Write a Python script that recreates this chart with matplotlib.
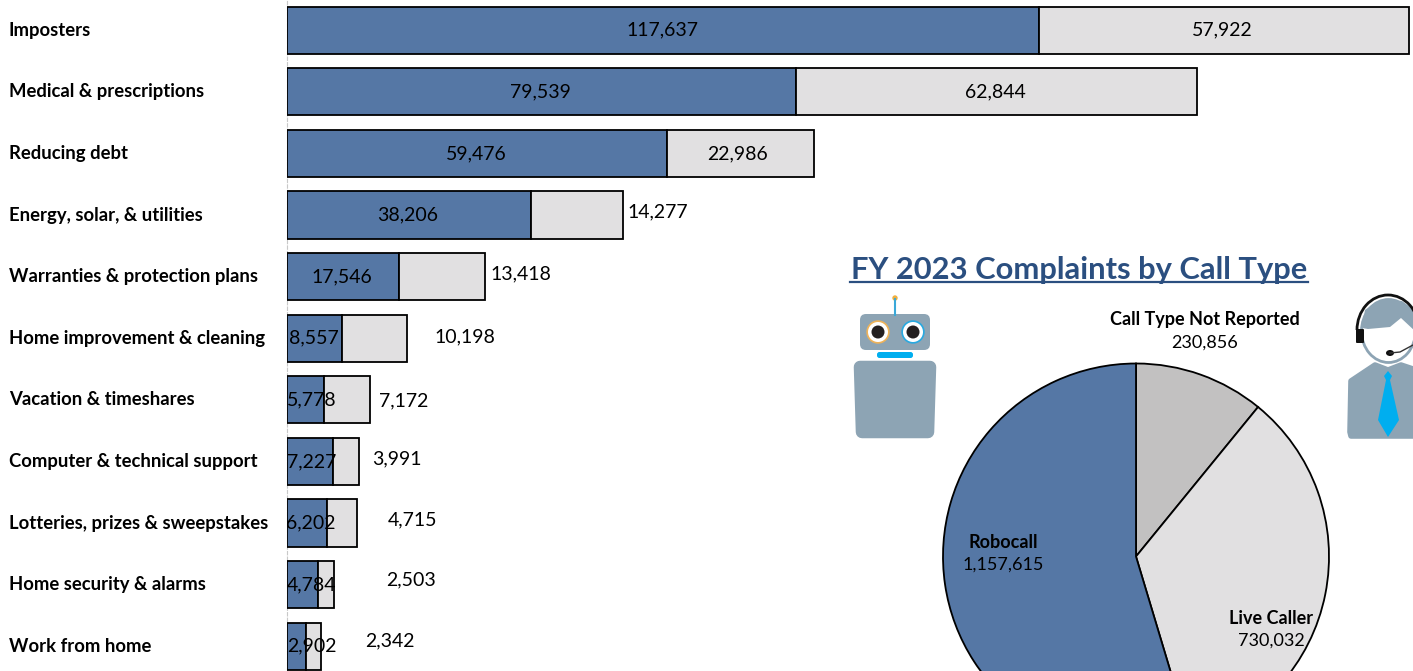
import matplotlib
matplotlib.use('Agg')
import matplotlib.pyplot as plt
from matplotlib.patches import Arc, Circle, Ellipse, FancyBboxPatch, Polygon

W, H = 1413, 671

# bar chart data
categories = ['Imposters', 'Medical & prescriptions', 'Reducing debt',
              'Energy, solar, & utilities', 'Warranties & protection plans',
              'Home improvement & cleaning', 'Vacation & timeshares',
              'Computer & technical support', 'Lotteries, prizes & sweepstakes',
              'Home security & alarms', 'Work from home']
robocalls = [117637, 79539, 59476, 38206, 17546, 8557, 5778, 7227, 6202, 4784, 2902]
live_calls = [57922, 62844, 22986, 14277, 13418, 10198, 7172, 3991, 4715, 2503, 2342]

# pie data
call_types = ['Call Type Not Reported', 'Live Caller', 'Robocall']
call_counts = [230856, 730032, 1157615]

BLUE = '#5577a5'
LIGHT = '#e1e0e1'
DARK = '#c2c1c1'
STEEL = '#8da4b4'
CYAN = '#00aeef'

plt.rcParams['font.family'] = ['Lato', 'DejaVu Sans']

fig = plt.figure(figsize=(W / 100, H / 100), dpi=100)

# bars: the axes starts at the dashed baseline, 752 px = 117,637
ax = fig.add_axes([287.2 / W, 0, (W - 287.2) / W, 1])
ax.barh(range(len(categories)), robocalls, height=0.765, color=BLUE,
        edgecolor='black', linewidth=1.3, zorder=2)
ax.barh(range(len(categories)), live_calls, left=robocalls, height=0.765,
        color=LIGHT, edgecolor='black', linewidth=1.3, zorder=2)
ax.set_xlim(0, (W - 287.2) * 117637 / 752)
ax.set_ylim((H - 30.2) / 61.6, -30.2 / 61.6)
ax.set_xticks([])
ax.set_yticks(range(len(categories)))
ax.set_yticklabels(categories, ha='left', fontweight='bold', fontsize=13.3, va='center')
ax.tick_params(axis='y', length=0, pad=200.4)
for s in ['top', 'right', 'bottom']:
    ax.spines[s].set_visible(False)
ax.spines['left'].set_color('#c8c8c8')
ax.spines['left'].set_linestyle((0, (3, 2)))
ax.spines['left'].set_linewidth(0.8)
ax.spines['left'].set_zorder(1)
ax.patch.set_alpha(0)

# label nudges in pixels, the small bars had their labels moved by hand
blue_dx = [-1, -1, -1, -2, -1, -1, 6, 1, 4, 9, 15]
light_dx = [-2, -1, -3, 0, 0, 0, 0, 0, 0, 0, 0]
out_dx = [None, None, None, 5, 5, 27, 9, 13, 31, 52, 44]
out_dy = [0, 0, 0, 3, 3, 1, -1, 3, 3, 5, 5]

for i, (a, b) in enumerate(zip(robocalls, live_calls)):
    ax.annotate(f'{a:,}', (a / 2, i), xytext=(blue_dx[i] * 0.72, 0), zorder=3,
                textcoords='offset points', ha='center', va='center', fontsize=14)
    if out_dx[i] is None:
        ax.annotate(f'{b:,}', (a + b / 2, i), xytext=(light_dx[i] * 0.72, 0), zorder=3,
                    textcoords='offset points', ha='center', va='center', fontsize=14)
    else:
        ax.annotate(f'{b:,}', (a + b, i), xytext=(out_dx[i] * 0.72, out_dy[i] * 0.72), zorder=3,
                    textcoords='offset points', ha='left', va='center', fontsize=14)

# pie, centre (1136, 556.5) radius 193, runs off the bottom of the figure
r = 193 * 1.02
pie_ax = fig.add_axes([(1136 - r) / W, (H - 556.5 - r) / H, 2 * r / W, 2 * r / H])
pie_ax.pie(call_counts, colors=[DARK, LIGHT, BLUE], startangle=90, counterclock=False,
           wedgeprops={'edgecolor': 'black', 'linewidth': 1.3})
pie_ax.set_xlim(-1.02, 1.02)
pie_ax.set_ylim(-1.02, 1.02)

# overlay in pixel coordinates for title, pie labels and the two icons
top = fig.add_axes([0, 0, 1, 1])
top.set_xlim(0, W)
top.set_ylim(H, 0)
top.axis('off')
top.patch.set_alpha(0)

top.text(1079, 269.5, 'FY 2023 Complaints by Call Type', ha='center', va='center',
         fontsize=22.2, fontweight='bold', color='#2b4f80')
top.plot([850, 1308], [282, 282], color='#2b4f80', lw=1.6)

pie_labels = [(1205, 320), (1271, 618), (1003, 542)]
for name, n, (x, y) in zip(call_types, call_counts, pie_labels):
    top.text(x, y, name, ha='center', va='center', fontsize=13, fontweight='bold')
    top.text(x, y + 23, f'{n:,}', ha='center', va='center', fontsize=13)


def rounded(x0, y0, x1, y1, rad, color):
    top.add_patch(FancyBboxPatch((x0 + rad, y0 + rad), x1 - x0 - 2 * rad, y1 - y0 - 2 * rad,
                                 boxstyle=f'round,pad={rad}', fc=color, ec='none'))


# robot
top.plot([895, 895], [299, 315], color='#3aa8d8', lw=1.5)
top.add_patch(Circle((895, 298), 2.7, fc='#f0b040', ec='none'))
rounded(860, 314, 930, 350, 6, STEEL)
for cx, ring in [(878, '#eeb35a'), (913, '#29a9e0')]:
    top.add_patch(Circle((cx, 332), 11.7, fc=ring, ec='none'))
    top.add_patch(Circle((cx, 332), 10, fc='white', ec='none'))
    top.add_patch(Circle((cx, 332), 6.5, fc='#231f20', ec='none'))
rounded(877, 352, 913, 358, 2.5, CYAN)
top.add_patch(Polygon([(860, 367), (930, 367), (928, 432), (862, 432)], fc=STEEL, ec=STEEL,
                      lw=9, joinstyle='round'))

# call agent
top.add_patch(Polygon([(1351, 381), (1375, 365), (1388, 370), (1401, 365), (1425, 373),
                       (1425, 436), (1351, 436), (1350, 432)], fc=STEEL, ec=STEEL,
                      lw=4, joinstyle='round'))
top.add_patch(Ellipse((1388.5, 331), 54, 63, fc='white', ec=STEEL, lw=2))
top.add_patch(Polygon([(1362, 328), (1365, 310), (1378, 301), (1388, 299.5), (1402, 301),
                       (1413, 309), (1416, 332), (1401, 318), (1390, 327), (1368, 329)],
                      fc=STEEL, ec='none'))
top.add_patch(Arc((1388, 330), 62, 70, theta1=180, theta2=360, color='#111111', lw=2))
top.add_patch(FancyBboxPatch((1357, 330), 6, 12, boxstyle='round,pad=1', fc='#111111', ec='none'))
top.plot([1390, 1400, 1413], [353, 352, 345], color='#333333', lw=1)
top.add_patch(Ellipse((1390, 353), 8, 6, fc='#111111', ec='none'))
top.add_patch(Polygon([(1388, 371), (1392, 376), (1390, 380), (1399, 420), (1388, 437),
                       (1378, 420), (1386, 380), (1384, 376)], fc=CYAN, ec='none'))

fig.savefig('out.png', dpi=100)
